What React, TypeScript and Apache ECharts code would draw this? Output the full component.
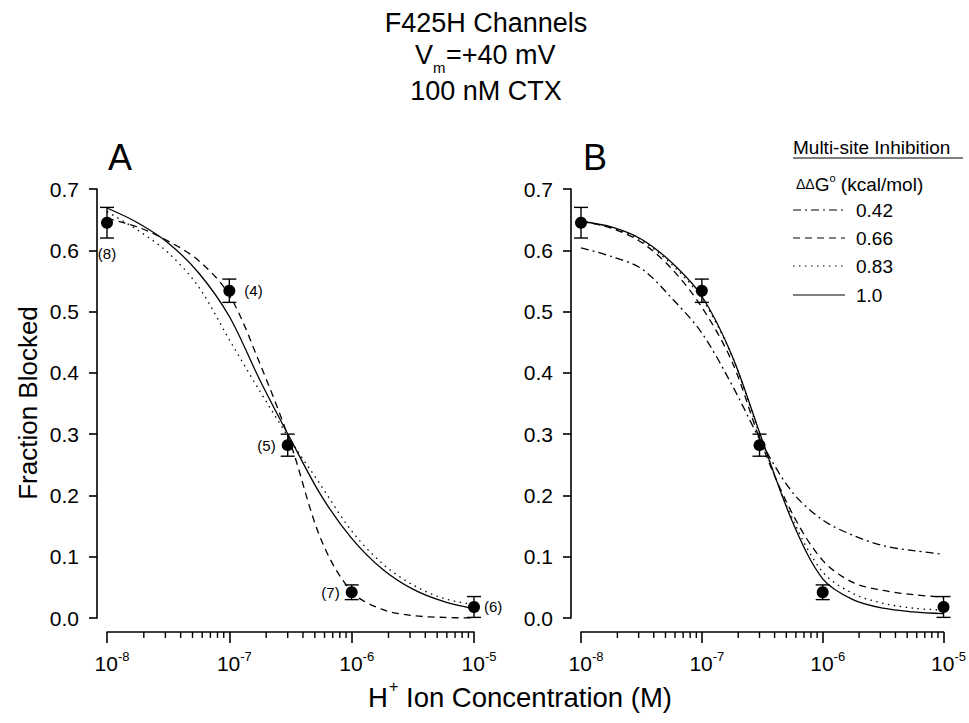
import React, { useEffect, useRef } from 'react';
import * as echarts from 'echarts';

const FONT = '"Liberation Sans", Arial, Helvetica, sans-serif';

// Curve sample positions: log10 of [H+] (M)
const CURVE_LOG_X = [-8, -7.75, -7.5, -7.25, -7, -6.75, -6.5, -6.25, -6, -5.75, -5.5, -5.25, -5];

// Panel A fitted curves
const A_SOLID = [0.669, 0.645, 0.612, 0.563, 0.492, 0.388, 0.292, 0.2, 0.13, 0.08, 0.047, 0.027, 0.015];
const A_DASHED = [0.652, 0.638, 0.615, 0.583, 0.527, 0.415, 0.285, 0.128, 0.043, 0.014, 0.004, 0.001, 0.0];
const A_DOTTED = [0.663, 0.633, 0.596, 0.54, 0.454, 0.37, 0.29, 0.216, 0.142, 0.089, 0.054, 0.032, 0.022];

// Panel B multi-site inhibition curves, by ΔΔG° (kcal/mol)
const B_042 = [0.604, 0.59, 0.57, 0.522, 0.465, 0.38, 0.284, 0.205, 0.16, 0.135, 0.118, 0.11, 0.104];
const B_066 = [0.648, 0.636, 0.613, 0.57, 0.507, 0.418, 0.281, 0.17, 0.094, 0.058, 0.045, 0.038, 0.034];
const B_083 = [0.647, 0.637, 0.616, 0.577, 0.521, 0.427, 0.287, 0.162, 0.075, 0.04, 0.024, 0.016, 0.013];
const B_100 = [0.647, 0.638, 0.618, 0.58, 0.525, 0.428, 0.29, 0.157, 0.064, 0.03, 0.016, 0.01, 0.007];

// Measured data points
const PT_CONC = [1e-8, 1e-7, 3e-7, 1e-6, 1e-5];
const PT_MEAN = [0.645, 0.534, 0.282, 0.042, 0.018];
const PT_SEM = [0.025, 0.019, 0.018, 0.012, 0.017];
const PT_N = ['(8)', '(4)', '(5)', '(7)', '(6)'];

// Minor tick multipliers per decade
const MINOR_MULT = [2, 3, 4, 5, 6, 7, 8, 9];
const DECADES = [-8, -7, -6];

const LEGEND_LABELS = ['0.42', '0.66', '0.83', '1.0'];

const DASH = [7, 5];
const DOT = [1.5, 4.5];
const DASHDOT = [8, 4, 2, 4];

export default function App() {
  const ref = useRef<HTMLDivElement>(null);

  useEffect(() => {
    if (!ref.current) return;
    const chart = echarts.init(ref.current, undefined, { renderer: 'svg' });

    const toPts = (ys: number[]) => CURVE_LOG_X.map((e, i) => [Math.pow(10, e), ys[i]]);
    const minorData: number[][] = [];
    DECADES.forEach((d) => MINOR_MULT.forEach((m) => minorData.push([m * Math.pow(10, d), 0])));

    const grids = [
      { left: 107, top: 189, width: 367, height: 429 },
      { left: 581, top: 189, width: 366, height: 429 },
    ];

    const axisLineStyle = { color: '#000', width: 1.6 };

    const xAxes = [0, 1].map((g) => ({
      type: 'log',
      logBase: 10,
      gridIndex: g,
      min: 1e-8,
      max: 1e-5,
      offset: 14,
      axisLine: { show: true, onZero: false, lineStyle: axisLineStyle },
      axisTick: { show: true, length: 11, inside: false, lineStyle: axisLineStyle },
      splitLine: { show: false },
      minorTick: { show: false },
      axisLabel: {
        margin: 18,
        formatter: (v: number) => `{b|10}{s|${Math.round(Math.log10(v))}}`,
        rich: {
          b: { fontSize: 21, fontFamily: FONT, color: '#000', padding: [0, 0, 0, 10] },
          s: { fontSize: 13, fontFamily: FONT, color: '#000', padding: [0, 0, 14, 0] },
        },
      },
    }));

    const yAxes = [0, 1].map((g) => ({
      type: 'value',
      gridIndex: g,
      min: 0,
      max: 0.7,
      interval: 0.1,
      offset: 10,
      axisLine: { show: true, lineStyle: axisLineStyle },
      axisTick: { show: true, length: 8, inside: false, lineStyle: axisLineStyle },
      splitLine: { show: false },
      axisLabel: {
        margin: 18,
        fontSize: 21,
        fontFamily: FONT,
        color: '#000',
        formatter: (v: number) => v.toFixed(1),
      },
    }));

    const lineSeries = (name: string, g: number, ys: number[], type: any) => ({
      name,
      type: 'line',
      xAxisIndex: g,
      yAxisIndex: g,
      data: toPts(ys),
      showSymbol: false,
      symbol: 'none',
      smooth: 0.33,
      clip: false,
      silent: true,
      lineStyle: { color: '#000', width: 1.3, type },
      z: 2,
    });

    const errSeries = (g: number) => ({
      type: 'custom',
      xAxisIndex: g,
      yAxisIndex: g,
      clip: false,
      silent: true,
      z: 3,
      data: PT_CONC.map((x, i) => [x, PT_MEAN[i] - PT_SEM[i], PT_MEAN[i] + PT_SEM[i]]),
      encode: { x: 0, y: [1, 2] },
      renderItem: (params: any, api: any) => {
        const x = api.value(0);
        const lo = api.coord([x, api.value(1)]);
        const hi = api.coord([x, api.value(2)]);
        const hw = 7;
        const st = { stroke: '#000', lineWidth: 1.4 };
        return {
          type: 'group',
          children: [
            { type: 'line', shape: { x1: lo[0], y1: lo[1], x2: hi[0], y2: hi[1] }, style: st },
            { type: 'line', shape: { x1: lo[0] - hw, y1: lo[1], x2: lo[0] + hw, y2: lo[1] }, style: st },
            { type: 'line', shape: { x1: hi[0] - hw, y1: hi[1], x2: hi[0] + hw, y2: hi[1] }, style: st },
          ],
        };
      },
    });

    const minorSeries = (g: number) => ({
      type: 'custom',
      xAxisIndex: g,
      yAxisIndex: g,
      clip: false,
      silent: true,
      data: minorData,
      encode: { x: 0, y: 1 },
      renderItem: (params: any, api: any) => {
        const p = api.coord([api.value(0), api.value(1)]);
        return {
          type: 'line',
          shape: { x1: p[0], y1: p[1] + 14, x2: p[0], y2: p[1] + 20 },
          style: { stroke: '#000', lineWidth: 1.4 },
        };
      },
    });

    const labelPos = ['bottom', 'right', 'left', 'left', 'right'];
    const labelDist = [17, 9, 6, 6, 4];

    const pointSeries = (g: number, withLabels: boolean) => ({
      type: 'scatter',
      xAxisIndex: g,
      yAxisIndex: g,
      symbol: 'circle',
      symbolSize: 12,
      clip: false,
      silent: true,
      z: 4,
      itemStyle: { color: '#000', opacity: 1 },
      data: PT_CONC.map((x, i) => ({
        value: [x, PT_MEAN[i]],
        label: withLabels
          ? {
              show: true,
              formatter: PT_N[i],
              position: labelPos[i],
              distance: labelDist[i],
              fontSize: 15,
              fontFamily: FONT,
              color: '#000',
              textBorderWidth: 0,
            }
          : { show: false },
      })),
    });

    const txt = (text: string, x: number, y: number, size: number, align = 'left', extra: any = {}) => ({
      type: 'text',
      x,
      y,
      silent: true,
      ...extra,
      style: {
        text,
        fontSize: size,
        fontFamily: FONT,
        fill: '#000',
        textAlign: align,
        textVerticalAlign: 'middle',
        align,
        verticalAlign: 'middle',
        ...(extra.style || {}),
      },
    });

    const legendX1 = 793;
    const legendX2 = 845;
    const legendRowsY = [210, 238, 266, 295];
    const legendDash = [DASHDOT, DASH, DOT, null];

    const graphic: any[] = [
      txt('F425H Channels', 486, 23, 27, 'center'),
      txt('V', 433, 55, 27, 'right'),
      txt('m', 433, 67, 15, 'left'),
      txt('=+40 mV', 446, 55, 27, 'left'),
      txt('100 nM CTX', 486, 91, 27, 'center'),
      txt('A', 108, 157, 36, 'left'),
      txt('B', 583, 157, 36, 'left'),
      txt('Fraction Blocked', 28, 403, 26, 'center', { rotation: Math.PI / 2 }),
      txt('H', 368, 697, 27.5, 'left'),
      txt('+', 389, 686, 16, 'left'),
      txt('Ion Concentration (M)', 406, 697, 27.5, 'left'),
      txt('Multi-site Inhibition', 793, 147, 19, 'left'),
      {
        type: 'line',
        silent: true,
        shape: { x1: 793, y1: 158, x2: 963, y2: 158 },
        style: { stroke: '#000', lineWidth: 1.2 },
      },
      txt('ΔΔG', 796, 184, 19, 'left', {
        style: {
          text: '{d|ΔΔ}{g|G}{o|o}{g| (kcal/mol)}',
          rich: {
            d: { fontSize: 14, fontFamily: FONT, fill: '#000' },
            g: { fontSize: 19, fontFamily: FONT, fill: '#000' },
            o: { fontSize: 11, fontFamily: FONT, fill: '#000', padding: [0, 0, 12, 0] },
          },
        },
      }),
    ];
    LEGEND_LABELS.forEach((lab, i) => {
      graphic.push({
        type: 'line',
        silent: true,
        shape: { x1: legendX1, y1: legendRowsY[i], x2: legendX2, y2: legendRowsY[i] },
        style: { stroke: '#000', lineWidth: 1.2, lineDash: legendDash[i] || undefined },
      });
      graphic.push(txt(lab, 856, legendRowsY[i], 19, 'left'));
    });

    const option: any = {
      animation: false,
      backgroundColor: '#fff',
      grid: grids,
      xAxis: xAxes,
      yAxis: yAxes,
      series: [
        lineSeries('A solid', 0, A_SOLID, 'solid'),
        lineSeries('A dashed', 0, A_DASHED, DASH),
        lineSeries('A dotted', 0, A_DOTTED, DOT),
        lineSeries(LEGEND_LABELS[0], 1, B_042, DASHDOT),
        lineSeries(LEGEND_LABELS[1], 1, B_066, DASH),
        lineSeries(LEGEND_LABELS[2], 1, B_083, DOT),
        lineSeries(LEGEND_LABELS[3], 1, B_100, 'solid'),
        errSeries(0),
        errSeries(1),
        minorSeries(0),
        minorSeries(1),
        pointSeries(0, true),
        pointSeries(1, false),
      ],
      graphic,
    };

    chart.setOption(option);
    return () => chart.dispose();
  }, []);

  return (
    <div
      ref={ref}
      style={{ position: 'fixed', left: 0, top: 0, width: 969, height: 723, background: '#fff' }}
    />
  );
}
